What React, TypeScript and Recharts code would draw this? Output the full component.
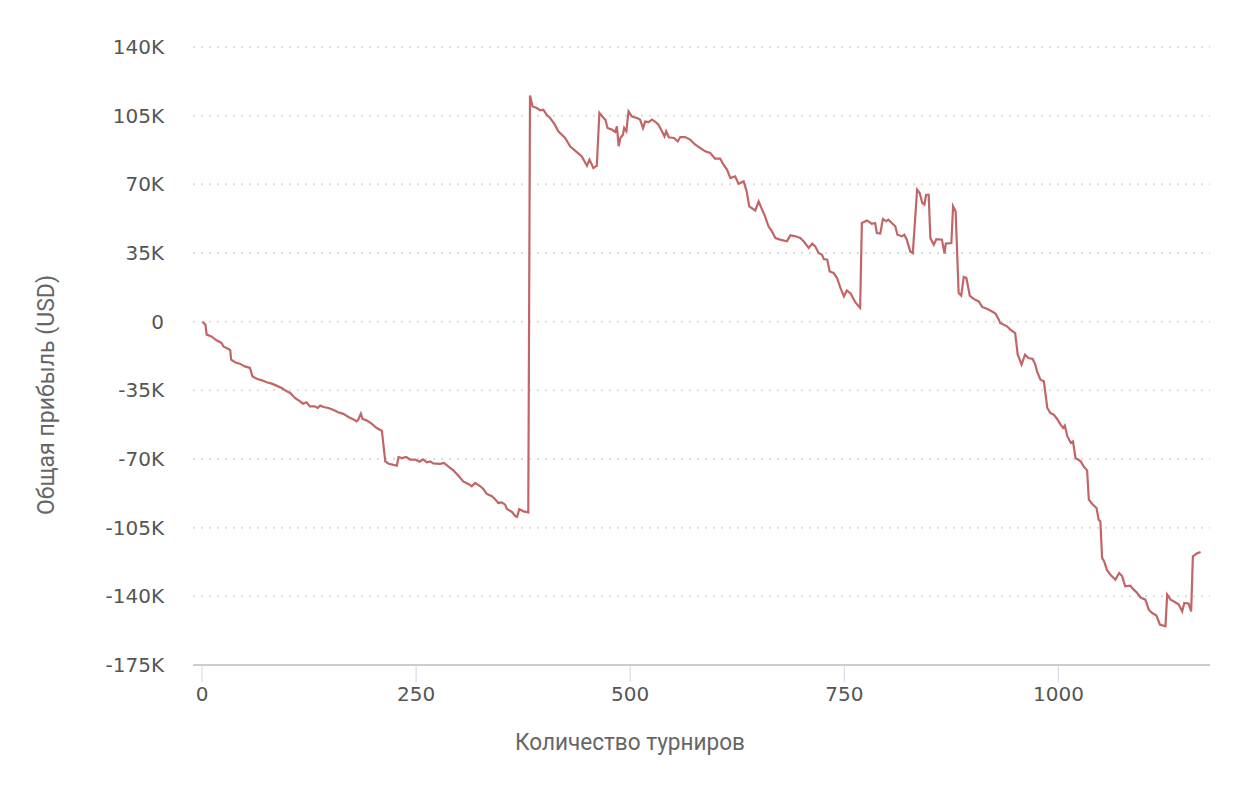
import React from 'react';
import { LineChart, Line, XAxis, YAxis, CartesianGrid, Label } from 'recharts';

document.body.style.margin = '0';

const tournaments = [
  1, 2, 4, 5.5, 11, 17, 23, 25, 31, 33, 34, 38.5, 44, 50, 56, 59, 64, 70, 75.5, 81.5,
  87, 93, 99, 103, 108.5, 114.5, 118, 122, 126, 132, 135, 138, 142, 147.5, 153, 159, 165, 171, 177, 180.5,
  182.5, 185.5, 187.5, 192, 198, 204, 210, 214, 218, 227.5, 229.5, 233.5, 238.5, 243, 249, 254, 258, 262.5, 266.5, 270,
  278, 282.5, 287.5, 293.5, 299.5, 305, 311, 315, 319, 325, 328.5, 332.5, 338.5, 342, 346, 350, 354, 356, 362, 366,
  368, 370.5, 375.5, 381, 383, 386, 391, 395, 398.5, 402.5, 406.5, 412, 416, 424, 430, 438, 443.5, 449.5, 452.5, 457,
  461, 464, 469, 471, 473.5, 478.5, 482.5, 484.5, 486.5, 488.5, 491.5, 493, 495.5, 498, 502, 508, 511.5, 515, 517.5, 521.5,
  525.5, 529, 533, 537, 540, 542, 545, 551, 555.5, 558.5, 564, 570, 576, 582, 587.5, 593.5, 599, 605, 609, 613,
  617, 622.5, 626.5, 632.5, 636, 639, 646, 650, 654, 657.5, 661.5, 665.5, 669.5, 675, 683, 687, 693, 698.5, 702.5, 708.5,
  712.5, 716, 720, 724, 726, 730, 733, 737.5, 741.5, 745.5, 749.5, 753, 757.5, 763, 768.5, 770.5, 776.5, 782, 786, 788,
  792, 795, 799, 801.5, 805.5, 809.5, 812, 817.5, 820, 823, 827, 830, 835, 838, 841, 843.5, 845.5, 848.5, 850.5, 854.5,
  857.5, 864, 867, 868.5, 875, 877, 880, 883.5, 886.5, 889.5, 892.5, 896.5, 901, 907, 911, 917, 922.5, 926.5, 930.5, 932,
  940, 944, 949.5, 952.5, 957, 961, 965, 970, 973, 975, 979, 983, 987, 990.5, 994.5, 998.5, 1002.5, 1005.5, 1007.5, 1010.5,
  1014.5, 1017, 1020, 1026, 1029.5, 1033.5, 1035.5, 1039.5, 1044.5, 1047, 1049, 1051, 1053.5, 1056.5, 1060.5, 1066.5, 1071, 1074.5, 1078, 1084,
  1088, 1092, 1096, 1101.5, 1105.5, 1109.5, 1114.5, 1118.5, 1125, 1127, 1131, 1136.5, 1140.5, 1144.5, 1147, 1152, 1155, 1157, 1161.5, 1166,
];

// total profit, thousands of USD
const profitK = [
  0, -0.7, -1.5, -6.6, -7.5, -9.5, -10.9, -12.6, -13.9, -14.5, -19.4, -20.7, -21.4, -22.8, -23.6, -27.9, -29.1, -29.9, -30.9, -31.6,
  -32.6, -33.8, -35.5, -36.3, -38.9, -40.6, -41.8, -41.1, -43.2, -43.2, -44, -42.8, -43.5, -44, -44.9, -46.2, -47, -48.6, -49.9, -50.8,
  -49.9, -46.9, -49.6, -50.3, -52, -54.2, -55.6, -71.2, -72.4, -73.4, -69, -69.5, -69, -70.3, -70.3, -71.4, -70.2, -71.7, -71.2, -72.2,
  -72.5, -72, -73.8, -75.8, -78.5, -81.4, -82.7, -83.9, -82.2, -83.9, -85.3, -87.8, -89, -90.4, -92.4, -92.1, -93.3, -95.5, -97, -99.2,
  -99.5, -95.5, -96.7, -97.2, 115.3, 109.7, 108.9, 107.7, 108, 105.5, 103.8, 100.4, 97, 93.6, 89.3, 86.3, 84.2, 79.5, 82.6, 78.3,
  79.5, 106.4, 103.8, 103, 98.7, 97.9, 96.7, 99.6, 89.4, 93.6, 95.3, 98.7, 97, 107.2, 104.6, 103.8, 103, 98.7, 102, 101.7,
  103, 102, 100.4, 97, 94.4, 97, 94, 93.6, 91.9, 94.1, 94.1, 92.8, 90.2, 88.5, 86.8, 86, 83.1, 83.1, 80, 77.5,
  73.2, 74.1, 70.3, 71.5, 66.4, 58.8, 56.7, 61.3, 57.1, 53.7, 48.6, 46, 42.6, 41.8, 41, 44, 43.5, 42.7, 41, 37.6,
  39.8, 38.4, 35, 34.1, 31.9, 31.6, 25.6, 24.8, 22.3, 17.2, 12.9, 15.9, 14.3, 9.8, 7, 50.3, 51.6, 49.9, 50.3, 45.2,
  44.9, 52.3, 51.2, 52, 50.3, 48.6, 44.3, 43.5, 44.3, 41.8, 35.8, 35, 67.3, 65.6, 60.5, 59.6, 64.7, 64.7, 42.6, 39.2,
  42.1, 41.8, 34.7, 39.8, 40.1, 58.8, 56.2, 14.6, 13.3, 22.8, 22.3, 13.3, 11.6, 10.3, 7.5, 6.5, 5.2, 4.1, 1, -0.7,
  -2.4, -4.1, -5.8, -16.8, -21.9, -16.8, -18.5, -19, -21.9, -25.3, -29.6, -30.4, -44, -46.5, -47.4, -49.6, -52.5, -54.2, -53, -58.5,
  -61.8, -61, -69.5, -71.2, -73.8, -75.8, -90.7, -92.9, -95, -100.9, -101.8, -120.4, -122.2, -126.4, -128.9, -131.5, -128.1, -129.8, -134.9, -134.6,
  -136.6, -138.3, -140.6, -141.7, -146.8, -148.5, -149.8, -154.4, -155.3, -139.1, -141.7, -143, -144.2, -147.7, -143.4, -143.7, -147.7, -119.6, -118.2, -117.4,
];

const xTicks = [0, 250, 500, 750, 1000];
const yTicks = [-175, -140, -105, -70, -35, 0, 35, 70, 105, 140];

const data = tournaments.map((x, i) => ({ x, profit: profitK[i] }));

const tickFont = { fontFamily: 'DejaVu Sans', fontSize: 20, fill: '#555555' };
const titleFont = { fontFamily: 'Roboto, sans-serif', fontSize: 24, fill: '#666666' };

export default function App() {
  return (
    <LineChart width={1260} height={790} data={data} margin={{ top: 47, right: 50, bottom: 55, left: 93 }}>
      <CartesianGrid vertical={false} stroke="#dcdcdc" strokeWidth={2} strokeDasharray="2 6" />
      <XAxis
        dataKey="x"
        type="number"
        domain={[-10.5, 1177]}
        ticks={xTicks}
        height={70}
        tickSize={17}
        tickMargin={5}
        stroke="#cccccc"
        axisLine={{ stroke: '#cccccc', strokeWidth: 2 }}
        tickLine={{ stroke: '#ccd6eb', strokeWidth: 1 }}
        tick={tickFont}
      >
        <Label
          content={() => (
            <text x={630} y={750} textAnchor="middle" textLength={230} lengthAdjust="spacingAndGlyphs" {...titleFont}>
              Количество турниров
            </text>
          )}
        />
      </XAxis>
      <YAxis
        type="number"
        domain={[-175, 140]}
        ticks={yTicks}
        width={100}
        axisLine={false}
        tickLine={false}
        tickSize={0}
        tickMargin={29}
        tick={tickFont}
        tickFormatter={(v: number) => (v === 0 ? '0' : `${v}K`)}
      >
        <Label
          content={() => (
            <text
              x={54}
              y={395}
              textAnchor="middle"
              textLength={240}
              lengthAdjust="spacingAndGlyphs"
              transform="rotate(-90 54 395)"
              {...titleFont}
            >
              Общая прибыль (USD)
            </text>
          )}
        />
      </YAxis>
      <Line
        type="linear"
        dataKey="profit"
        stroke="#c26566"
        strokeWidth={2.2}
        dot={false}
        isAnimationActive={false}
      />
    </LineChart>
  );
}
